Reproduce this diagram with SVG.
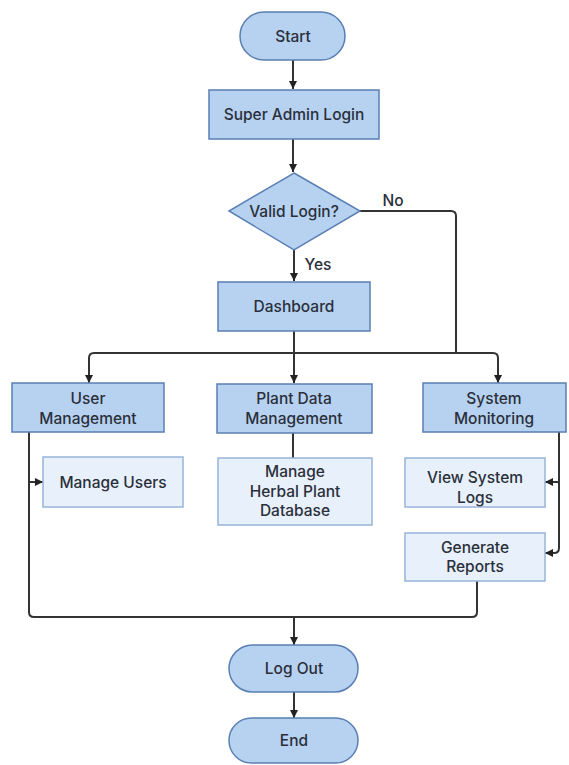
<svg xmlns="http://www.w3.org/2000/svg" width="569" height="765" viewBox="0 0 569 765">
<style>
.main{fill:#b7d2f1;stroke:#5a7fb3;stroke-width:1.5}
.sub{fill:#e7f0fb;stroke:#98b4da;stroke-width:1.5}
.t{font-family:Inter,"Noto Sans","Liberation Sans",sans-serif;font-size:15.5px;font-weight:500;fill:#2a2f3a;text-anchor:middle;dominant-baseline:central}
.c{fill:none;stroke:#333;stroke-width:2}
.ca{fill:none;stroke:#333;stroke-width:2;marker-end:url(#ah)}
</style>
<defs>
<marker id="ah" viewBox="0 0 8 8" refX="8" refY="4" markerWidth="8" markerHeight="8" markerUnits="userSpaceOnUse" orient="auto">
<path d="M0,0 L8,4 L0,8 z" fill="#222"/>
</marker>
</defs>
<rect width="569" height="765" fill="#fff"/>
<g id="connectors">
<path class="ca" d="M293,60 V89"/>
<path class="ca" d="M293,139 V172"/>
<path class="ca" d="M294,250 V281"/>
<path class="c" d="M360,211 H451 Q456,211 456,216 V353"/>
<path class="ca" d="M294,331 V383"/>
<path class="ca" d="M294,353 H94 Q89,353 89,358 V383"/>
<path class="ca" d="M294,353 H493 Q498,353 498,358 V383"/>
<path class="c" d="M293,433 V458"/>
<path class="c" d="M29,432 V612 Q29,617 34,617 H294"/>
<path class="ca" d="M29,482 H43"/>
<path class="ca" d="M559,432 V548 Q559,553 554,553 H545"/>
<path class="ca" d="M559,482 H545"/>
<path class="c" d="M477,581 V612 Q477,617 472,617 H294"/>
<path class="ca" d="M294,617 V645"/>
<path class="ca" d="M294,692 V718"/>
<text class="t" x="393" y="200">No</text>
<text class="t" x="318" y="264">Yes</text>
</g>
<g id="start"><rect class="main" x="240" y="12" width="105" height="48" rx="24"/><text class="t" x="293" y="36">Start</text></g>
<g id="login"><rect class="main" x="209" y="90" width="170" height="49"/><text class="t" x="294" y="114.5">Super Admin Login</text></g>
<g id="valid"><polygon class="main" points="294,173 360,211 294,250 229,211"/><text class="t" x="294" y="211">Valid Login?</text></g>
<g id="dashboard"><rect class="main" x="218" y="282" width="152" height="49"/><text class="t" x="294" y="306">Dashboard</text></g>
<g id="user-mgmt"><rect class="main" x="12" y="383" width="152" height="49"/><text class="t" x="88" y="398">User</text><text class="t" x="88" y="418">Management</text></g>
<g id="plant-mgmt"><rect class="main" x="217" y="384" width="155" height="49"/><text class="t" x="294" y="398">Plant Data</text><text class="t" x="294" y="418">Management</text></g>
<g id="sys-mon"><rect class="main" x="423" y="383" width="143" height="49"/><text class="t" x="494" y="398">System</text><text class="t" x="494" y="418">Monitoring</text></g>
<g id="manage-users"><rect class="sub" x="43" y="457" width="140" height="50"/><text class="t" x="113" y="482">Manage Users</text></g>
<g id="herbal"><rect class="sub" x="218" y="458" width="154" height="67"/><text class="t" x="295" y="471.5">Manage</text><text class="t" x="295" y="491">Herbal Plant</text><text class="t" x="295" y="510.5">Database</text></g>
<g id="logs"><rect class="sub" x="405" y="458" width="140" height="49"/><text class="t" x="475" y="477.5">View System</text><text class="t" x="475" y="497">Logs</text></g>
<g id="reports"><rect class="sub" x="405" y="533" width="140" height="48"/><text class="t" x="475" y="547">Generate</text><text class="t" x="475" y="566.5">Reports</text></g>
<g id="logout"><rect class="main" x="229" y="645" width="129" height="47" rx="23.5"/><text class="t" x="294" y="668">Log Out</text></g>
<g id="end"><rect class="main" x="229" y="718" width="129" height="45" rx="22.5"/><text class="t" x="294" y="740">End</text></g>
</svg>
